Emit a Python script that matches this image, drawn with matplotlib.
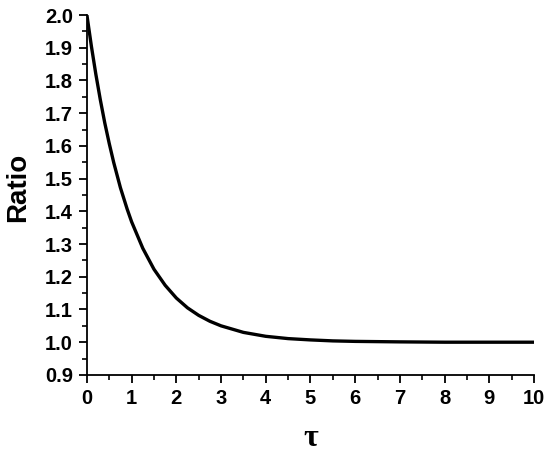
import matplotlib
matplotlib.use("Agg")
import matplotlib.pyplot as plt
from matplotlib.ticker import MultipleLocator

tau = [0, 0.1, 0.2, 0.3, 0.4, 0.5, 0.6, 0.75, 0.9, 1.0, 1.25, 1.5, 1.75, 2.0, 2.25, 2.5,
       2.75, 3.0, 3.5, 4.0, 4.5, 5.0, 5.5, 6.0, 7.0, 8.0, 9.0, 10.0]
ratio = [2.0, 1.905, 1.819, 1.741, 1.670, 1.607, 1.549, 1.472, 1.407, 1.368, 1.287,
         1.223, 1.174, 1.135, 1.105, 1.082, 1.064, 1.050, 1.030, 1.018, 1.011, 1.007,
         1.004, 1.0025, 1.001, 1.0, 1.0, 1.0]

plt.rcParams['font.family'] = ['Liberation Sans', 'DejaVu Sans']
fig = plt.figure(figsize=(5.5, 4.55), dpi=100)
ax = fig.add_axes([0.158, 0.176, 0.813, 0.791])
ax.plot(tau, ratio, color='black', lw=2.4)
ax.set_xlim(0, 10)
ax.set_ylim(0.9, 2.0)
ax.xaxis.set_major_locator(MultipleLocator(1))
ax.xaxis.set_minor_locator(MultipleLocator(0.5))
ax.yaxis.set_major_locator(MultipleLocator(0.1))
ax.yaxis.set_minor_locator(MultipleLocator(0.05))
ax.yaxis.set_major_formatter(matplotlib.ticker.FormatStrFormatter('%.1f'))
for s in ['top', 'right']:
    ax.spines[s].set_visible(False)
for s in ['left', 'bottom']:
    ax.spines[s].set_linewidth(1.3)
ax.tick_params(which='major', direction='out', length=6, width=1.3, labelsize=14.5, pad=4)
ax.tick_params(which='minor', direction='out', length=3.5, width=1.2)
for lab in ax.get_xticklabels() + ax.get_yticklabels():
    lab.set_fontweight('bold')
ax.set_ylabel('Ratio', fontsize=20, fontweight='bold')
ax.yaxis.set_label_coords(-0.124, 0.522)
ax.set_xlabel('τ', fontsize=23, fontweight='bold', family=['Liberation Serif', 'DejaVu Serif'])
ax.xaxis.set_label_coords(0.5, -0.135)
fig.savefig('out.png', dpi=100)
